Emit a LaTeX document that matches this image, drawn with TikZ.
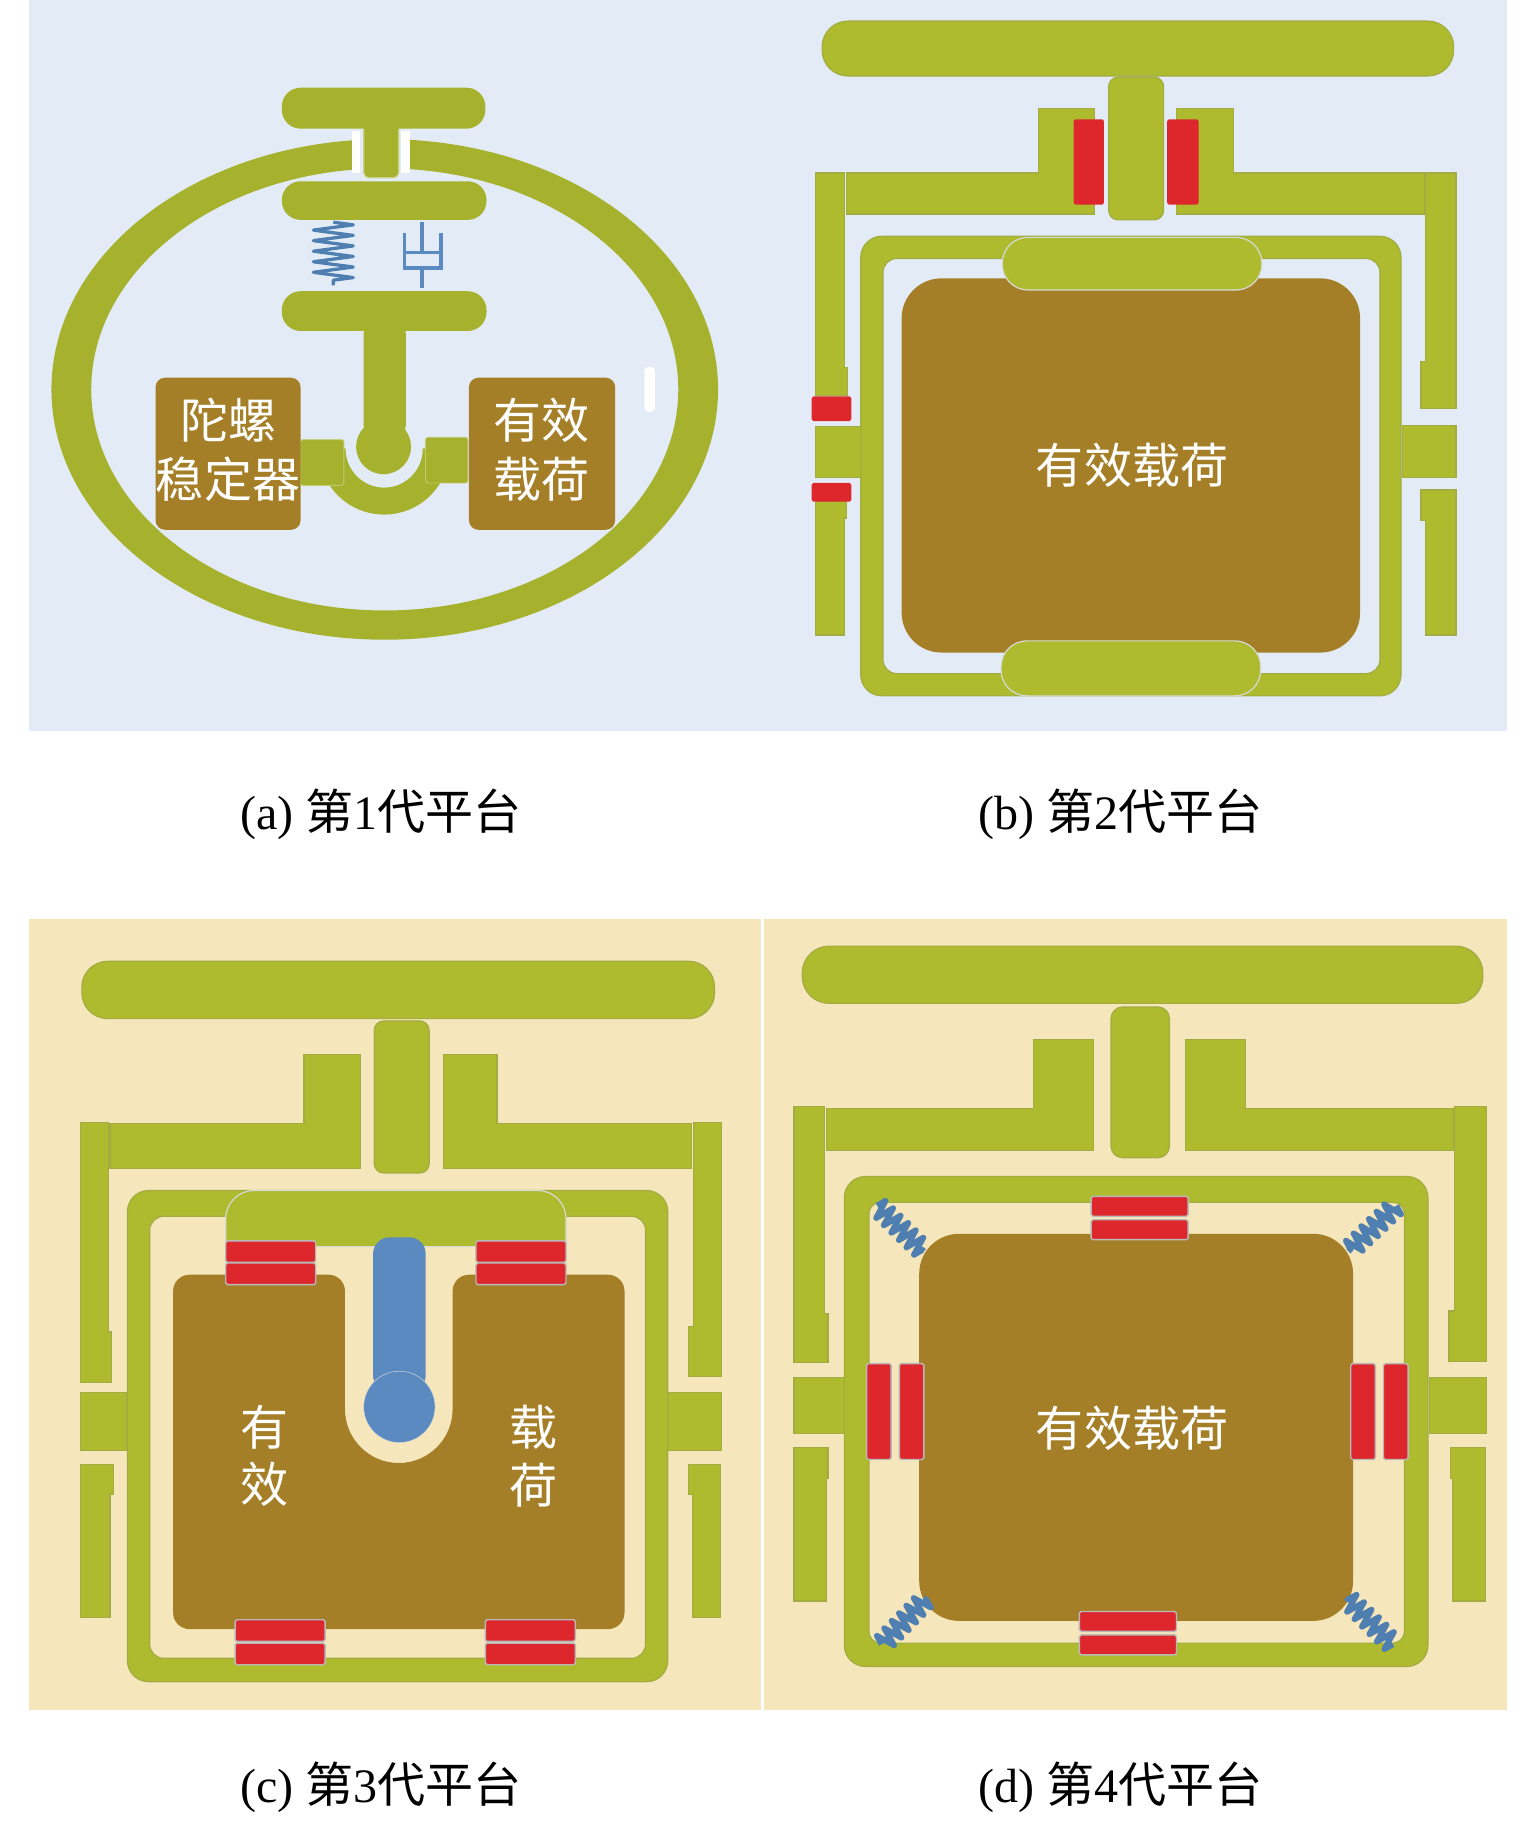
\documentclass[tikz,border=0pt]{standalone}
\usepackage{fontspec}
\setmainfont{Liberation Serif}
\newfontfamily\cjk{Noto Sans CJK SC}
\usetikzlibrary{decorations.pathmorphing}
\definecolor{skybg}{HTML}{E3ECF6}
\definecolor{tanbg}{HTML}{F6E6BB}
\definecolor{olivea}{HTML}{A6B22E}
\definecolor{oliveb}{HTML}{AEBB2E}
\definecolor{cargobrown}{HTML}{A57F27}
\definecolor{padred}{HTML}{DD272D}
\definecolor{springblue}{HTML}{4F7FB0}
\definecolor{rodblue}{HTML}{5B8AC0}
\begin{document}
\begin{tikzpicture}[x=.998pt,y=-.998pt,
	bara/.style={fill=olivea},
	bar/.style={fill=oliveb,draw=oliveb!75!gray,line width=1},
	cargo/.style={fill=cargobrown},
	rd/.style={fill=padred,draw=gray!55,line width=1.2,rounded corners=1.5},
	caption/.style={font=\fontsize{41}{49}\selectfont,inner sep=0},
	label/.style={font=\cjk\fontsize{41}{49}\selectfont,text=white,inner sep=0,align=center},
	coilblue/.style={draw=springblue,line join=round,decorate,decoration={zigzag,amplitude=#1,segment length=9}}]
	\useasboundingbox (0pt,0pt) rectangle (1310pt,-1563.4pt);

	% four backgrounds
	\fill[skybg] (25,0) rectangle (650,625);
	\fill[skybg] (650,0) rectangle (1289,625);
	\fill[tanbg] (25,786) rectangle (651,1462);
	\fill[tanbg] (653,786) rectangle (1289,1462);

	% (a)
	\fill[bara,even odd rule] (329,333) ellipse [x radius=285,y radius=214] (329,333) ellipse [x radius=251,y radius=189];
	\fill[white] (301,112) rectangle (308,148);
	\fill[white] (343,112) rectangle (351,148);
	\fill[skybg] (308,108) rectangle (343,152);
	\fill[bara,draw=olivea!60!white,line width=1,rounded corners=5] (311,104) rectangle (341,152);
	\fill[bara,rounded corners=16] (241,75) rectangle (415,110);
	\fill[bara,rounded corners=16] (241,155) rectangle (416,188);
	\fill[bara,rounded corners=16] (241,249) rectangle (416,283);
	\draw[coilblue=17,line width=2.8] (285,190) -- (285,244);
	\draw[rodblue,line width=3] (346,199) -- (346,229) -- (377,229) -- (377,199);
	\draw[rodblue,line width=3] (346,216) -- (377,216);
	\draw[rodblue,line width=3] (361,190) -- (361,216);
	\draw[rodblue,line width=3] (361,229) -- (361,246);
	\draw[olivea,line width=23] (284,384) arc [start angle=180,end angle=0,radius=44.5];
	\fill[bara,rounded corners=8] (311,277) rectangle (347,372);
	\fill[bara] (328,382) circle (23.5);
	\fill[bara,draw=olivea!70!white,line width=.8,rounded corners=2] (257,376) rectangle (294,415);
	\fill[bara,draw=olivea!70!white,line width=.8,rounded corners=2] (364,374) rectangle (400,413);
	\fill[cargo,rounded corners=8] (133,323) rectangle (257,453);
	\fill[cargo,rounded corners=8] (401,323) rectangle (526,453);
	\fill[white,rounded corners=3] (551,314) rectangle (560,352);
	\node[label] (gyro) at (195,384.5) {陀螺\\[1pt]稳定器};
	\node[label] (loada) at (463,384.5) {有效\\[1pt]载荷};
	\node[caption] (capa) at (326,696) {(a) {\cjk 第}1{\cjk 代平台}};

	% (b)
	\fill[bar,rounded corners=22] (703,18) rectangle (1243,65);
	\fill[bar] (724,148) -- (888,148) -- (888,93) -- (936,93) -- (936,183) -- (724,183) -- cycle;
	\fill[bar] (1218,148) -- (1055,148) -- (1055,93) -- (1006,93) -- (1006,183) -- (1218,183) -- cycle;
	\fill[bar,rounded corners=8] (948,66) rectangle (995,188);
	\fill[padred,rounded corners=2] (918,102) rectangle (944,175);
	\fill[padred,rounded corners=2] (998,102) rectangle (1025,175);
	\fill[bar] (697,148) -- (722,148) -- (722,314) -- (725,314) -- (725,338) -- (697,338) -- cycle;
	\fill[bar] (697,429) -- (724,429) -- (724,443) -- (722,443) -- (722,543) -- (697,543) -- cycle;
	\fill[bar] (697,365) rectangle (736,408);
	\fill[rd,draw=none] (694,339) rectangle (728,360);
	\fill[rd,draw=none] (694,413) rectangle (728,429);
	\fill[bar] (1219,148) -- (1245,148) -- (1245,349) -- (1215,349) -- (1215,309) -- (1219,309) -- cycle;
	\fill[bar] (1215,419) -- (1245,419) -- (1245,543) -- (1219,543) -- (1219,445) -- (1215,445) -- cycle;
	\fill[bar] (1199,364) rectangle (1245,408);
	\fill[bar,even odd rule,rounded corners=18] (736,202) rectangle (1198,595) [rounded corners=12] (755,221) rectangle (1180,576);
	\fill[cargo,rounded corners=34] (771,238) rectangle (1163,558);
	\fill[bar,draw=gray!30,rounded corners=22] (857,203) rectangle (1079,248);
	\fill[bar,draw=gray!30,rounded corners=22] (856,548) rectangle (1078,595);
	\node[label] (loadb) at (968,398) {有效载荷};
	\node[caption] (capb) at (958,696) {(b) {\cjk 第}2{\cjk 代平台}};

	% (c)
	\fill[bar,rounded corners=22] (70,822) rectangle (611,871);
	\fill[bar] (94,961) -- (260,961) -- (260,902) -- (308,902) -- (308,999) -- (94,999) -- cycle;
	\fill[bar] (591,961) -- (425,961) -- (425,902) -- (379,902) -- (379,999) -- (591,999) -- cycle;
	\fill[bar,rounded corners=8] (320,873) rectangle (367,1003);
	\fill[bar] (69,960) -- (93,960) -- (93,1139) -- (95,1139) -- (95,1182) -- (69,1182) -- cycle;
	\fill[bar] (69,1191) rectangle (108,1240);
	\fill[bar] (69,1252) -- (97,1252) -- (97,1278) -- (94,1278) -- (94,1383) -- (69,1383) -- cycle;
	\fill[bar] (593,960) -- (617,960) -- (617,1177) -- (589,1177) -- (589,1134) -- (593,1134) -- cycle;
	\fill[bar] (571,1191) rectangle (617,1240);
	\fill[bar] (589,1252) -- (616,1252) -- (616,1383) -- (592,1383) -- (592,1278) -- (589,1278) -- cycle;
	\fill[bar,even odd rule,rounded corners=18] (109,1018) rectangle (571,1438) [rounded corners=12] (128,1040) rectangle (552,1418);
	\fill[cargo] (148,1393) [rounded corners=14] -- (148,1090) -- (295,1090) -- (295,1150) [sharp corners] -- (295,1205) arc [start angle=180,end angle=0,radius=46] -- (387,1150) [rounded corners=14] -- (387,1090) -- (534,1090) -- (534,1393) -- cycle;
	\fill[bar,draw=gray!30] (193,1066) [rounded corners=24] -- (193,1018) -- (484,1018) [sharp corners] -- (484,1066) -- cycle;
	\foreach \px/\py in {193/1061,193/1080,407/1061,407/1080,201/1385,201/1405,415/1385,415/1405}
		\fill[rd] (\px,\py) rectangle (\px+77,\py+18.5);
	\fill[rodblue,rounded corners=14] (319,1058) rectangle (364,1190);
	\fill[rodblue,draw=gray!30] (341.5,1203) circle (30.5);
	\node[label] (loadc) at (226,1245) {有\\效};
	\node[label] (loadd) at (456,1245) {载\\荷};
	\node[caption] (capc) at (326,1528) {(c) {\cjk 第}3{\cjk 代平台}};

	% (d)
	\fill[bar,rounded corners=23] (686,809) rectangle (1268,858);
	\fill[bar] (707,948) -- (884,948) -- (884,889) -- (935,889) -- (935,984) -- (707,984) -- cycle;
	\fill[bar] (1243,948) -- (1065,948) -- (1065,889) -- (1014,889) -- (1014,984) -- (1243,984) -- cycle;
	\fill[bar,rounded corners=10] (950,861) rectangle (1000,990);
	\fill[bar] (679,946) -- (705,946) -- (705,1123) -- (708,1123) -- (708,1165) -- (679,1165) -- cycle;
	\fill[bar] (679,1178) rectangle (722,1226);
	\fill[bar] (679,1238) -- (708,1238) -- (708,1264) -- (707,1264) -- (707,1369) -- (679,1369) -- cycle;
	\fill[bar] (1244,946) -- (1271,946) -- (1271,1164) -- (1239,1164) -- (1239,1121) -- (1244,1121) -- cycle;
	\fill[bar] (1222,1178) rectangle (1271,1226);
	\fill[bar] (1240,1238) -- (1270,1238) -- (1270,1369) -- (1242,1369) -- (1242,1264) -- (1240,1264) -- cycle;
	\fill[bar,even odd rule,rounded corners=18] (722,1006) rectangle (1221,1425) [rounded corners=10] (743,1028) rectangle (1201,1405);
	\fill[cargo,rounded corners=34] (786,1055) rectangle (1157,1386);
	\foreach \px/\py in {933/1023,933/1043,923/1378,923/1398}
		\fill[rd] (\px,\py) rectangle (\px+83,\py+17);
	\foreach \px in {741,769,1155,1183}
		\fill[rd] (\px,1166) rectangle (\px+21,1248);
	\begin{scope}[decoration={segment length=7}]
	\draw[coilblue=8,line width=5] (750,1031) -- (790,1070);
	\draw[coilblue=8,line width=5] (1194,1031) -- (1153,1070);
	\draw[coilblue=8,line width=5] (754,1406) -- (793,1366);
	\draw[coilblue=8,line width=5] (1191,1406) -- (1151,1366);
	\end{scope}
	\node[label] (loade) at (968,1221) {有效载荷};
	\node[caption] (capd) at (958,1528) {(d) {\cjk 第}4{\cjk 代平台}};
\end{tikzpicture}
\end{document}
